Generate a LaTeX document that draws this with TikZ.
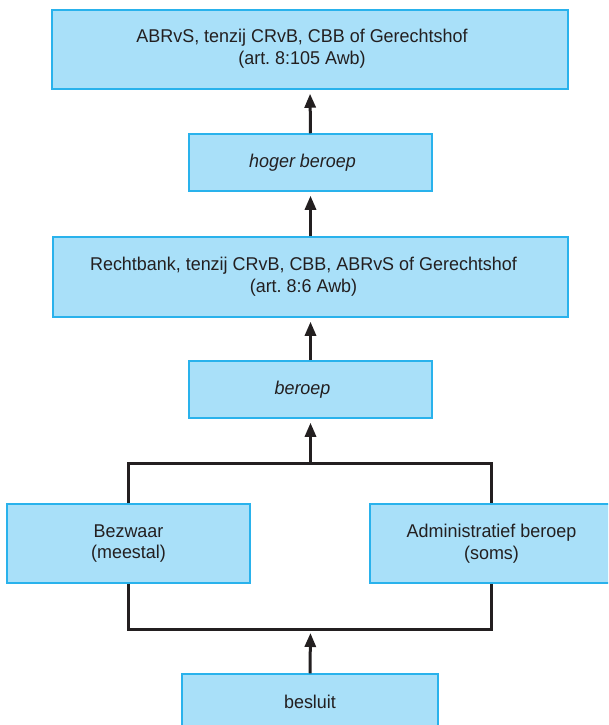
\documentclass[tikz,border=0pt]{standalone}
\usepackage{fontspec}
\setmainfont[FakeStretch=0.97]{Liberation Sans}
\usetikzlibrary{arrows.meta}
\definecolor{boxfill}{HTML}{A9E0F9}
\definecolor{boxline}{HTML}{29B2EC}
\definecolor{ink}{HTML}{231F20}
\frenchspacing
\begin{document}
\begin{tikzpicture}[x=1pt,y=-1pt,
  box/.style={draw=boxline,fill=boxfill,line width=1.5pt,inner sep=0pt},
  txt/.style={inner sep=0pt,align=center,font=\fontsize{18.5}{21.7}\selectfont,text=ink},
  itxt/.style={txt,font=\fontsize{18.5}{21.7}\selectfont\itshape},
  conn/.style={draw=ink,line width=3pt},
  arr/.style={conn,-{Triangle[length=14pt,width=11pt]},shorten >=4pt}]
\useasboundingbox (0,0) rectangle (608,725);
\clip (0,0) rectangle (608,725);
% boxes
\node[box,minimum width=516pt,minimum height=79pt] (top) at (310,49.5) {};
\node[box,minimum width=243pt,minimum height=57pt] (hoger) at (310.5,162.5) {};
\node[box,minimum width=515pt,minimum height=80pt] (rb) at (310.5,277) {};
\node[box,minimum width=243pt,minimum height=57pt] (beroep) at (310.5,389.5) {};
\node[box,minimum width=243pt,minimum height=79pt] (bezwaar) at (128.5,543.5) {};
\node[box,minimum width=243pt,minimum height=79pt] (admin) at (491.5,543.5) {};
\node[box,minimum width=256pt,minimum height=56pt] (besluit) at (310,702) {};
% texts
\node[txt] (toptext) at ([xshift=-8pt,yshift=1pt]top.center)
  {ABRvS, tenzij CRvB, CBB of Gerechtshof\\(art.\ 8:105 Awb)};
\node[itxt] (hogertext) at ([xshift=-8pt]hoger.center) {hoger beroep};
\node[txt] (rbtext) at ([xshift=-7pt]rb.center)
  {Rechtbank, tenzij CRvB, CBB, ABRvS of Gerechtshof\\(art.\ 8:6 Awb)};
\node[itxt] (berooptext) at ([xshift=-8pt]beroep.center) {beroep};
\node[txt] (bezwaartext) at (bezwaar.center) {Bezwaar\\(meestal)};
\node[txt] (admintext) at (admin.center) {Administratief beroep\\(soms)};
\node[txt] (besluittext) at (besluit.center) {besluit};
% connectors
\coordinate (join) at (310.5,463);
\coordinate (split) at (310.5,629);
\draw[arr] (hoger.north) -- (top.south);
\draw[arr] (rb.north) -- (hoger.south);
\draw[arr] (beroep.north) -- (rb.south);
\draw[conn] (bezwaar.north) |- (join) -| (admin.north);
\draw[arr] (join) -- (beroep.south);
\draw[conn] (bezwaar.south) |- (split) -| (admin.south);
\draw[arr] (besluit.north) -- (split);
\end{tikzpicture}
\end{document}
